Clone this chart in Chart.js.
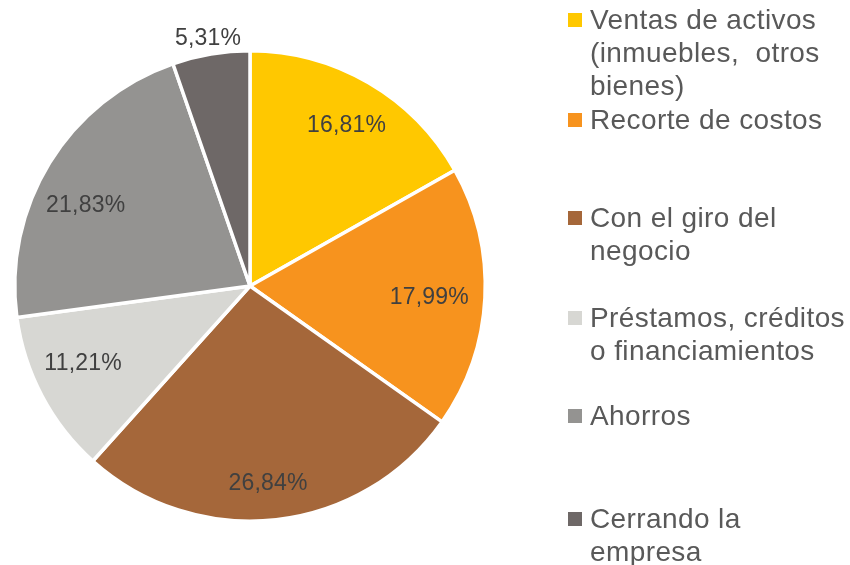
<!DOCTYPE html>
<html>
<head>
<meta charset="utf-8">
<script src="https://cdn.jsdelivr.net/npm/chart.js@4/dist/chart.umd.min.js"></script>
<style>
  html, body { margin: 0; padding: 0; background: #ffffff; }
  #wrap { position: relative; width: 850px; height: 565px; overflow: hidden; }
  #c { position: absolute; left: 0; top: 0; }
  #legend { position: absolute; left: 0; top: 0; width: 850px; height: 565px; pointer-events: none;
            font-family: "Liberation Sans", Arial, sans-serif; font-size: 28px; color: #595959;
            letter-spacing: 0.4px; line-height: 33px; }
  .item { position: absolute; left: 568px; white-space: nowrap; }
  .sw { position: absolute; left: 0; top: 10px; width: 14px; height: 14px; }
  .txt { position: absolute; left: 22px; top: 0; }
</style>
</head>
<body>
<div id="wrap">
  <canvas id="c" width="850" height="565"></canvas>
  <div id="legend"></div>
</div>
<script>
// ---- data ----
const categories = [
  ["Ventas de activos", "(inmuebles,\u00a0 otros", "bienes)"],
  ["Recorte de costos"],
  ["Con el giro del", "negocio"],
  ["Préstamos, créditos", "o financiamientos"],
  ["Ahorros"],
  ["Cerrando la", "empresa"]
];
const values = [16.81, 17.99, 26.84, 11.21, 21.83, 5.31];
const valueLabels = ["16,81%", "17,99%", "26,84%", "11,21%", "21,83%", "5,31%"];
const colors = ["#FFC800", "#F7931E", "#A5673A", "#D7D7D3", "#949391", "#6E6867"];

// ---- layout / style (not data) ----
const legendCenters = [20.3, 119.5, 218.3, 318.3, 416, 519];
const labelRadius = [0.798, 0.764, 0.838, 0.78, 0.78, null]; // fraction of outer radius; null = outside
const labelAngleShift = [0.012, 0.01, 0.02, 0.058, -0.09, 0];

const dataLabelPlugin = {
  id: 'dataLabelPlugin',
  afterDatasetsDraw(chart) {
    const ctx = chart.ctx;
    const meta = chart.getDatasetMeta(0);
    ctx.save();
    ctx.font = '23px "Liberation Sans", Arial, sans-serif';
    ctx.fillStyle = '#404040';
    ctx.textAlign = 'center';
    ctx.textBaseline = 'middle';
    if ('letterSpacing' in ctx) ctx.letterSpacing = '0.2px';
    meta.data.forEach((arc, i) => {
      const p = arc.getProps(['x', 'y', 'startAngle', 'endAngle', 'outerRadius'], true);
      const mid = (p.startAngle + p.endAngle) / 2 + labelAngleShift[i];
      const r = labelRadius[i] == null ? p.outerRadius + 17 : p.outerRadius * labelRadius[i];
      const x = p.x + Math.cos(mid) * r;
      const y = p.y + Math.sin(mid) * r;
      ctx.fillText(valueLabels[i], x, y + 1);
    });
    ctx.restore();
  }
};

new Chart(document.getElementById('c'), {
  type: 'pie',
  data: {
    labels: categories.map(l => l.join(' ')),
    datasets: [{
      data: values,
      backgroundColor: colors,
      borderColor: '#ffffff',
      borderWidth: 3.5
    }]
  },
  options: {
    responsive: false,
    animation: false,
    layout: { padding: { left: 13, top: 49, right: 363, bottom: 42 } },
    plugins: {
      legend: { display: false },
      tooltip: { enabled: false }
    }
  },
  plugins: [dataLabelPlugin]
});

// HTML legend
const legend = document.getElementById('legend');
categories.forEach((lines, i) => {
  const item = document.createElement('div');
  item.className = 'item';
  item.style.top = (legendCenters[i] - 17) + 'px';
  const sw = document.createElement('div');
  sw.className = 'sw';
  sw.style.background = colors[i];
  item.appendChild(sw);
  const txt = document.createElement('div');
  txt.className = 'txt';
  txt.innerHTML = lines.map(s => s.replace(/&/g, '&amp;').replace(/</g, '&lt;')).join('<br>');
  item.appendChild(txt);
  legend.appendChild(item);
});
</script>
</body>
</html>
